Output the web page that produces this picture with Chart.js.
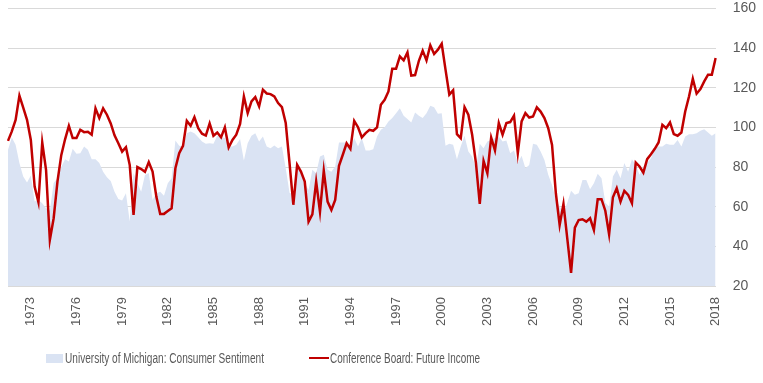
<!DOCTYPE html>
<html>
<head>
<meta charset="utf-8">
<script src="https://cdn.jsdelivr.net/npm/chart.js@4"></script>
<style>
  html, body { margin: 0; padding: 0; background: #fff; }
  #wrap { position: relative; width: 763px; height: 383px; }
  #legend { position: absolute; left: 0; top: 348px; width: 763px; height: 20px;
            font-family: "Liberation Sans", sans-serif; font-size: 14px; color: #595959; }
  .item { position: absolute; top: 0; white-space: nowrap; line-height: 20px; transform-origin: 0 50%; }
  .swatch { position: absolute; }
</style>
</head>
<body>
<div id="wrap">
  <canvas id="chart" width="763" height="383"></canvas>
  <div id="legend">
    <div class="swatch" style="left:46px; top:6px; width:17px; height:9px; background:#dae3f3;"></div>
    <div class="item" id="lab1" data-w="199" style="left:65px;">University of Michigan: Consumer Sentiment</div>
    <div class="swatch" style="left:309px; top:9px; width:20px; height:2px; background:#c00000;"></div>
    <div class="item" id="lab2" data-w="150" style="left:330px;">Conference Board: Future Income</div>
  </div>
</div>
<script>
// quarterly data, 1971 Q3 .. 2018 Q1
const firstYear = 1971;
const firstQuarter = 3;
const quarterCount = 187;

// University of Michigan: Consumer Sentiment (area)
const sentiment = [
  88.7, 94.9, 91.2, 82, 75.2, 72.2, 75.7, 62.6, 63.4, 61.8,
  59.2, 58, 72, 74.4, 80, 84, 82.8, 89.2, 86.7, 87,
  90.4, 88.7, 84, 84, 82, 77.7, 74.9, 73, 67.6, 63.9,
  63.1, 66.8, 52.5, 77, 72, 67.6, 76, 77, 63.4, 66.8,
  67.6, 65.5, 71.9, 74.4, 93.4, 90.7, 90.4, 97.1, 97.9, 97,
  95, 92.9, 91.7, 92, 91.7, 95.8, 95, 94.6, 90.4, 90.4,
  91.2, 94.1, 83.3, 92, 95.8, 97.1, 92.9, 95.4, 90.4, 89.5,
  90.9, 89.5, 90.4, 79.4, 67.1, 66, 79, 78.6, 72, 68.5,
  78.6, 76.9, 85.3, 86.2, 78.6, 77.7, 80.3, 92.4, 92.4, 92.4,
  89.5, 94.6, 90.4, 94.6, 88.4, 88.4, 89, 95.4, 98.8, 100.1,
  103, 104.7, 107.2, 109.7, 105.9, 104.2, 102.5, 107.5, 105.9, 104.7,
  107.2, 110.9, 110.2, 106.9, 107.2, 90.7, 91.7, 91.2, 84, 90.4,
  95.8, 87.8, 85.3, 79.4, 91.7, 89.5, 92.9, 93.7, 94.6, 95.4,
  92.9, 93.4, 87, 88.4, 82, 85.7, 79.4, 81.1, 91.7, 91.2,
  87.8, 83.6, 76.1, 71, 63.4, 60.1, 57, 62, 68.1, 66,
  66.8, 73.5, 73.5, 68.8, 71.9, 76.6, 74.4, 62, 60.1, 75.2,
  78.6, 74.4, 82, 77.7, 84, 81.1, 76.1, 80.3, 82, 84.5,
  89.5, 90.4, 90.4, 91.7, 91.2, 91.2, 93.7, 90.4, 95.4, 96.6,
  96.6, 97.1, 98.3, 99.1, 97.4, 95.8, 97.1
];

// Conference Board: Future Income (line)
const futureIncome = [
  93.2, 98, 103.8, 116, 110, 103.8, 93.7, 70.2, 62.3, 92.4,
  78.6, 43.2, 54.2, 72.7, 86, 94, 100.8, 94.6, 94.6, 98.8,
  97.6, 97.8, 96.3, 109.6, 104.7, 109.6, 106.4, 102, 96, 92,
  87.8, 90, 81, 55.9, 80, 79, 77.6, 82.5, 77.7, 65,
  56.4, 56.4, 57.8, 59.2, 79.4, 87, 90.7, 103.3, 100.8, 105.2,
  99.6, 96.8, 95.9, 102, 95.8, 97.4, 95, 100, 89.9, 93.7,
  96.3, 101.8, 115.6, 107.2, 113.1, 115.3, 110.6, 119, 117.1, 116.8,
  115.6, 112.3, 110.2, 102.2, 82, 61, 81.1, 77.7, 72.7, 52.5,
  56.2, 72.7, 57.5, 78.2, 62.6, 58.4, 63.4, 80.6, 86.2, 92,
  89.2, 103.3, 100.1, 95, 97.1, 98.8, 98.3, 100, 111.4, 113.9,
  118.1, 129.6, 129.6, 135.8, 133.8, 137.8, 126.1, 126.4, 133.6, 138.7,
  133.8, 141.4, 137, 139.2, 142.2, 129.1, 116.5, 118.7, 96.6, 94.6,
  110.2, 106.4, 96.3, 82, 61.4, 83.1, 76.9, 94.9, 88.4, 102.2,
  96.3, 102.2, 102.7, 105.9, 87, 103, 107.2, 105, 105.5, 110.1,
  108, 104.7, 99.6, 91.2, 66.8, 50.8, 61.4, 44, 26.7, 49.5,
  53.3, 53.7, 52.5, 54.2, 48.3, 63.8, 63.8, 58, 46.1, 64.8,
  69.3, 62.6, 68, 66, 61.8, 82.3, 80.3, 77.2, 84, 86.5,
  89.2, 92.4, 101.3, 99.6, 102.5, 96.6, 95.8, 97.4, 108, 115.6,
  124.5, 117, 119.3, 123.2, 126.6, 126.6, 135
];

// axis ticks
const yearTicks = ['1973','1976','1979','1982','1985','1988','1991','1994','1997','2000','2003','2006','2009','2012','2015','2018'];
const yMin = 20, yMax = 160, yStep = 20;

// quarter labels
const quarters = [];
for (let i = 0; i < quarterCount; i++) {
  const q = firstQuarter - 1 + i;
  quarters.push((firstYear + Math.floor(q / 4)) + ' Q' + (q % 4 + 1));
}

const textColor = '#595959';
const gridColor = '#d9d9d9';

new Chart(document.getElementById('chart'), {
  type: 'line',
  data: {
    labels: quarters,
    datasets: [
      {
        label: 'Conference Board: Future Income',
        data: futureIncome,
        borderColor: '#c00000',
        borderWidth: 2.5,
        pointRadius: 0,
        tension: 0,
        fill: false,
        order: 0
      },
      {
        label: 'University of Michigan: Consumer Sentiment',
        data: sentiment,
        borderWidth: 0,
        borderColor: 'rgba(0,0,0,0)',
        backgroundColor: '#dae3f3',
        pointRadius: 0,
        tension: 0,
        fill: 'start',
        order: 1
      }
    ]
  },
  options: {
    responsive: false,
    animation: false,
    layout: { padding: { left: 8, right: 7, top: 3, bottom: 57 } },
    plugins: { legend: { display: false }, tooltip: { enabled: false } },
    scales: {
      x: {
        grid: { display: true, drawOnChartArea: false, color: 'rgba(0,0,0,0)',
                drawTicks: true, tickLength: 11, tickColor: 'rgba(0,0,0,0)' },
        border: { display: false },
        ticks: {
          autoSkip: false,
          minRotation: 90,
          maxRotation: 90,
          padding: 0,
          color: textColor,
          font: { family: 'Liberation Sans', size: 13 },
          callback: function (val, idx) {
            const y = quarters[idx].slice(0, 4);
            return (quarters[idx].endsWith('Q1') && yearTicks.includes(y)) ? y : '';
          }
        }
      },
      y: {
        position: 'right',
        min: yMin,
        max: yMax,
        grid: { color: gridColor, drawTicks: true, tickLength: 17, tickColor: 'rgba(0,0,0,0)' },
        border: { display: false },
        ticks: {
          stepSize: yStep,
          padding: 0,
          color: textColor,
          font: { family: 'Liberation Sans', size: 14 }
        }
      }
    }
  }
});

// squeeze legend text to the narrow face of the original
document.querySelectorAll('#legend .item').forEach(el => {
  const w = el.getBoundingClientRect().width;
  el.style.transform = 'scaleX(' + (Number(el.dataset.w) / w) + ')';
});
</script>
</body>
</html>
